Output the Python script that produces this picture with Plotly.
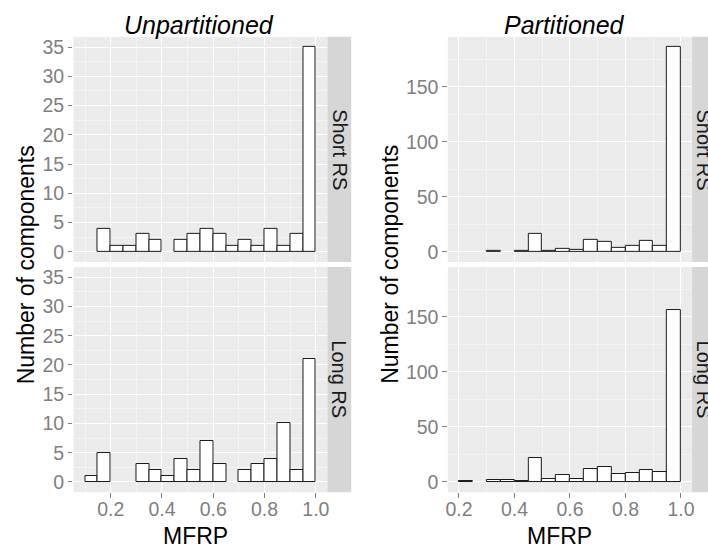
import plotly.graph_objects as go

W, H = 708, 547

# ---- data (histogram counts, bin width 0.05) ----
bin_left = [0.10, 0.15, 0.20, 0.25, 0.30, 0.35, 0.40, 0.45, 0.50,
            0.55, 0.60, 0.65, 0.70, 0.75, 0.80, 0.85, 0.90, 0.95]
bin_width = 0.05

unpart_short = [0, 4, 1, 1, 3, 2, 0, 2, 3, 4, 3, 1, 2, 1, 4, 1, 3, 35]
unpart_long = [1, 5, 0, 0, 3, 2, 1, 4, 2, 7, 3, 0, 2, 3, 4, 10, 2, 21]
part_short = [0, 0, 0, 0, 1, 0, 1, 16, 1, 3, 2, 11, 9, 4, 5, 10, 5, 186]
part_long = [0, 0, 1, 0, 2, 2, 1, 22, 3, 6, 3, 12, 14, 7, 8, 11, 9, 156]

x_ticks = [0.2, 0.4, 0.6, 0.8, 1.0]
x_tick_text = ["0.2", "0.4", "0.6", "0.8", "1.0"]
facet_labels = ["Short RS", "Long RS"]
titles = ["Unpartitioned", "Partitioned"]

FONT = "Liberation Sans, Arial, Helvetica, sans-serif"
BG = "#ebebeb"
STRIP = "#d6d6d6"
TICKC = "#7f7f7f"


def px_x(p):
    return p / W


def px_y(p):
    return 1 - p / H


# panel geometry (pixels)
LX = (72, 327.7)
RX = (449, 695)
TOPY = (36, 262)
BOTY = (267, 493)
STRIP_W = 24

fig = go.Figure()

centers = [b + bin_width / 2 for b in bin_left]
series = [
    (unpart_short, "x", "y"),
    (part_short, "x2", "y2"),
    (unpart_long, "x3", "y3"),
    (part_long, "x4", "y4"),
]
for counts, xa, ya in series:
    xs = [c for c, v in zip(centers, counts) if v > 0]
    ys = [v for v in counts if v > 0]
    fig.add_trace(go.Bar(
        x=xs, y=ys, width=bin_width, xaxis=xa, yaxis=ya,
        marker=dict(color="white", line=dict(color="#1a1a1a", width=1)),
        showlegend=False, hoverinfo="x+y",
    ))


def xaxis(domain, rng, anchor, labels):
    return dict(
        domain=[px_x(domain[0]), px_x(domain[1])], range=rng, anchor=anchor,
        tickmode="array", tickvals=x_ticks, ticktext=x_tick_text,
        showticklabels=labels, ticks="outside" if labels else "",
        ticklen=4.5, tickwidth=1, tickcolor=TICKC, ticklabelstandoff=-5,
        tickfont=dict(family=FONT, size=19.5, color=TICKC),
        showgrid=True, gridcolor="white", gridwidth=1.3,
        minor=dict(tickmode="array", tickvals=[0.1, 0.3, 0.5, 0.7, 0.9],
                   showgrid=True, gridcolor="#f4f4f4", gridwidth=0.6),
        zeroline=False, showline=False, fixedrange=True,
    )


def yaxis(domain, rng, anchor, dtick, minor_dtick):
    return dict(
        domain=[px_y(domain[1]), px_y(domain[0])], range=rng, anchor=anchor,
        tick0=0, dtick=dtick, ticks="outside",
        ticklen=4.5, tickwidth=1, tickcolor=TICKC,
        tickfont=dict(family=FONT, size=19.5, color=TICKC),
        showgrid=True, gridcolor="white", gridwidth=1.3,
        minor=dict(tick0=minor_dtick, dtick=dtick, showgrid=True,
                   gridcolor="#f4f4f4", gridwidth=0.6),
        zeroline=False, showline=False, fixedrange=True,
    )


L_YR = [-1.75, 36.75]
R_YR = [-9.3, 195.3]
L_XR = [0.055, 1.045]
R_XR = [0.16, 1.04]

fig.update_layout(
    width=W, height=H,
    margin=dict(l=0, r=0, t=0, b=0),
    paper_bgcolor="white", plot_bgcolor=BG,
    bargap=0,
    xaxis=xaxis(LX, L_XR, "y", False),
    yaxis=yaxis(TOPY, L_YR, "x", 5, 2.5),
    xaxis2=xaxis(RX, R_XR, "y2", False),
    yaxis2=yaxis(TOPY, R_YR, "x2", 50, 25),
    xaxis3=xaxis(LX, L_XR, "y3", True),
    yaxis3=yaxis(BOTY, L_YR, "x3", 5, 2.5),
    xaxis4=xaxis(RX, R_XR, "y4", True),
    yaxis4=yaxis(BOTY, R_YR, "x4", 50, 25),
)

shapes = []
annotations = []
for (x0, x1) in (LX, RX):
    for i, (y0, y1) in enumerate((TOPY, BOTY)):
        shapes.append(dict(type="rect", xref="paper", yref="paper",
                           x0=px_x(x1), x1=px_x(x1 + STRIP_W),
                           y0=px_y(y1), y1=px_y(y0),
                           fillcolor=STRIP, line=dict(width=0), layer="below"))
        annotations.append(dict(
            xref="paper", yref="paper", x=px_x(x1 + STRIP_W / 2),
            y=px_y((y0 + y1) / 2), text=facet_labels[i], textangle=90,
            showarrow=False, xanchor="center", yanchor="middle",
            font=dict(family=FONT, size=20, color="#1a1a1a")))

# panel titles
for title, cx in zip(titles, (198.6, 566.5)):
    annotations.append(dict(
        xref="paper", yref="paper", x=px_x(cx), y=px_y(24),
        text="<i>" + title + "</i>", showarrow=False,
        xanchor="center", yanchor="middle",
        font=dict(family=FONT, size=25, color="black")))

# axis titles
for cx in (195, 561.5):
    annotations.append(dict(
        xref="paper", yref="paper", x=px_x(cx), y=px_y(537),
        text="MFRP", showarrow=False, xanchor="center", yanchor="middle",
        font=dict(family=FONT, size=23, color="black")))
for cx in (24, 390):
    annotations.append(dict(
        xref="paper", yref="paper", x=px_x(cx), y=px_y(264.5),
        text="Number of components", textangle=-90, showarrow=False,
        xanchor="center", yanchor="middle",
        font=dict(family=FONT, size=23, color="black")))

fig.update_layout(shapes=shapes, annotations=annotations)

fig.write_html("out.html")
